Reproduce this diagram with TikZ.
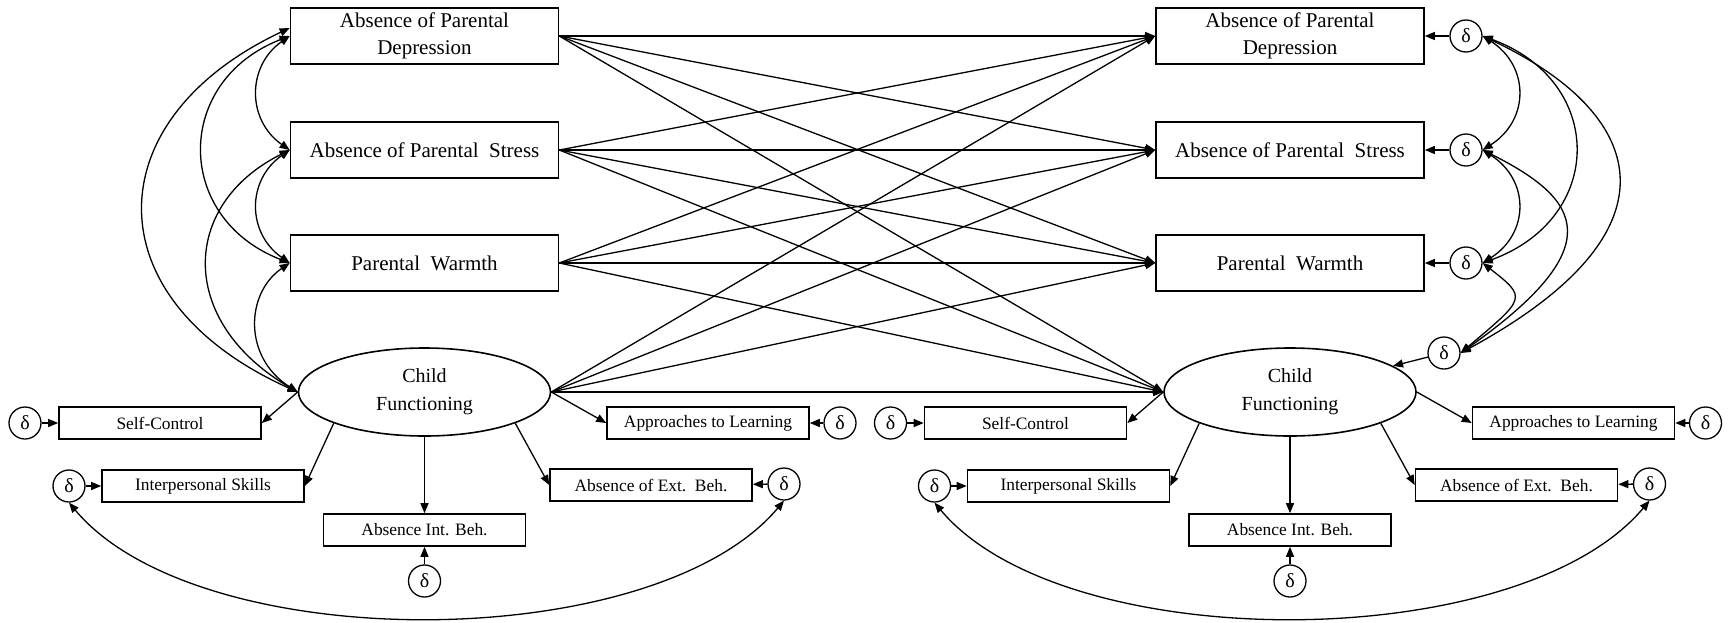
\documentclass[tikz,border=0pt]{standalone}
\usepackage{fontspec}
\setmainfont{Liberation Serif}
\usetikzlibrary{arrows.meta,shapes.geometric}
\begin{document}
\begin{tikzpicture}[x=0.5pt,y=-0.5pt,
  line width=0.65pt,
  >={Triangle[length=5pt,width=4pt]},
  bigbox/.style={draw,line width=0.8pt,minimum width=134pt,minimum height=28pt,
    inner sep=0pt,align=center,font=\fontsize{10.5}{13.5}\selectfont},
  smallbox/.style={draw,line width=0.8pt,minimum width=101pt,minimum height=16pt,
    inner sep=0pt,font=\fontsize{8.7}{10}\selectfont},
  latent/.style={draw,ellipse,line width=0.8pt,minimum width=126pt,minimum height=44pt,
    inner sep=0pt,align=center,font=\fontsize{10}{14}\selectfont},
  err/.style={draw,circle,minimum size=16pt,inner sep=0pt,font=\fontsize{10}{12}\selectfont},
  reg/.style={->},
  cov/.style={<->}]

% canvas
\fill[white] (0,0) rectangle (1729,622);
\useasboundingbox (0,0) rectangle (1729,622);

% parental variables, wave 1 (left) and wave 2 (right)
\node[bigbox] (ldep)  at (424.5,36)  {Absence of Parental\\Depression};
\node[bigbox] (lstr)  at (424.5,150) {Absence of Parental\ \ Stress};
\node[bigbox] (lwarm) at (424.5,263) {Parental\ \ Warmth};
\node[bigbox] (rdep)  at (1290,36)   {Absence of Parental\\Depression};
\node[bigbox] (rstr)  at (1290,150)  {Absence of Parental\ \ Stress};
\node[bigbox] (rwarm) at (1290,263)  {Parental\ \ Warmth};

% child functioning measurement models
\foreach \s/\dx in {l/0,r/865.5}{
  \node[latent]   (\s-cf)   at (424.5+\dx,392) {Child\\Functioning};
  \node[smallbox] (\s-sc)   at (160+\dx,423)   {Self-Control};
  \node[err]      (\s-scd)  at (25+\dx,423)    {δ};
  \node[smallbox] (\s-is)   at (203+\dx,486)   {Interpersonal Skills};
  \node[err]      (\s-isd)  at (69+\dx,486)    {δ};
  \node[smallbox] (\s-aib)  at (424.5+\dx,530) {Absence Int. Beh.};
  \node[err]      (\s-aibd) at (424.5+\dx,581) {δ};
  \node[smallbox] (\s-ext)  at (651+\dx,485)   {Absence of Ext.\ \ Beh.};
  \node[err]      (\s-extd) at (784+\dx,484)   {δ};
  \node[smallbox] (\s-atl)  at (708+\dx,423)   {Approaches to Learning};
  \node[err]      (\s-atld) at (840+\dx,423)   {δ};

  \draw[reg] (\s-cf.west)  -- (\s-sc.east);
  \draw[reg] (\s-cf.199)   -- (\s-is.east);
  \draw[reg] (\s-cf.south) -- (\s-aib.north);
  \draw[reg] (\s-cf.341)   -- (\s-ext.west);
  \draw[reg] (\s-cf.east)  -- (\s-atl.west);

  \draw[reg] (\s-scd)  -- (\s-sc);
  \draw[reg] (\s-isd)  -- (\s-is);
  \draw[reg] (\s-aibd) -- (\s-aib);
  \draw[reg] (\s-extd) -- (\s-ext);
  \draw[reg] (\s-atld) -- (\s-atl);

  \draw[cov] (\s-isd.south) .. controls +(130,155) and +(-130,155) .. (\s-extd.south);
}

% residuals of the wave 2 constructs
\node[err] (rdepd)  at (1466,36)  {δ};
\node[err] (rstrd)  at (1466,150) {δ};
\node[err] (rwarmd) at (1466,263) {δ};
\node[err] (rcfd)   at (1444,353) {δ};
\draw[reg] (rdepd)  -- (rdep);
\draw[reg] (rstrd)  -- (rstr);
\draw[reg] (rwarmd) -- (rwarm);
\draw[reg] (rcfd)   -- (r-cf);

% cross-lagged paths
\foreach \a in {ldep,lstr,lwarm}{
  \foreach \b in {rdep,rstr,rwarm}{
    \draw[reg] (\a.east) -- (\b.west);
  }
  \draw[reg] (\a.east) -- (r-cf.west);
}
\foreach \b in {rdep,rstr,rwarm}{
  \draw[reg] (l-cf.east) -- (\b.west);
}
\draw[reg] (l-cf.east) -- (r-cf.west);

% wave 1 covariances
\draw[cov] (ldep.west)  .. controls +(-43,30)  and +(-43,-30)  .. (lstr.west);
\draw[cov] (lstr.west)  .. controls +(-43,30)  and +(-43,-30)  .. (lwarm.west);
\draw[cov] (ldep.west)  .. controls +(-116,45) and +(-116,-45) .. (lwarm.west);
\draw[cov] (lstr.west)  .. controls +(-110,55) and +(-120,-70) .. (l-cf.west);
\draw[cov] (lwarm.west) .. controls +(-44,30)  and +(-55,-35)  .. (l-cf.west);
\draw[cov] ([yshift=4pt]ldep.west) .. controls +(-195,92) and +(-205,-92) .. (l-cf.west);

% wave 2 residual covariances
\draw[cov] (rdepd.east)  .. controls +(47,30)   and +(47,-30)   .. (rstrd.east);
\draw[cov] (rstrd.east)  .. controls +(47,30)   and +(47,-30)   .. (rwarmd.east);
\draw[cov] (rdepd.east)  .. controls +(123,45)  and +(123,-45)  .. (rwarmd.east);
\draw[cov] (rdepd.east)  .. controls +(160,75)  and +(230,-125) .. (rcfd.east);
\draw[cov] (rstrd.east)  .. controls +(100,50)  and +(150,-106) .. (rcfd.east);
\draw[cov] (rwarmd.east) .. controls +(45,35)   and +(65,-55)   .. (rcfd.east);
\end{tikzpicture}
\end{document}
